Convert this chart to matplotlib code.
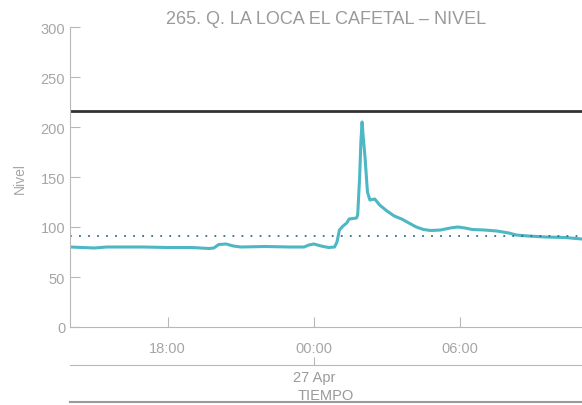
import datetime as dt
import matplotlib
matplotlib.use("Agg")
import matplotlib.pyplot as plt
import matplotlib.dates as mdates
from matplotlib.lines import Line2D

plt.rcParams['font.family'] = ['Liberation Sans', 'DejaVu Sans']

# hours counted from 2023-04-26 00:00
hours = [14.0, 14.5, 15.0, 15.5, 16.0, 17.0, 18.0, 19.0, 19.7, 19.9, 20.1, 20.4,
         20.7, 21.0, 22.0, 23.0, 23.6, 23.8, 24.0, 24.3, 24.6, 24.85, 24.95, 25.05,
         25.2, 25.35, 25.45, 25.75, 25.8, 25.88, 25.93, 25.98, 26.02, 26.1, 26.2,
         26.3, 26.5, 26.7, 27.0, 27.3, 27.6, 27.9, 28.2, 28.5, 28.8, 29.2, 29.6,
         29.9, 30.2, 30.5, 31.0, 31.5, 32.0, 32.3, 32.8, 33.5, 34.3, 35.0]
nivel = [80, 79.5, 79, 80, 80, 80, 79.5, 79.5, 78.5, 79, 82.5, 83,
         81, 80, 80.5, 80, 80, 82, 83, 81, 79.5, 80, 85, 97,
         101, 104, 108, 109, 112, 150, 185, 205, 192, 170, 135,
         127, 128, 122, 116, 111, 108, 104, 100, 97.5, 96.5, 97, 99,
         100, 99, 97.5, 97, 96, 94, 92, 91, 90, 89.5, 88]

umbral_alto = 216
umbral_medio = 91

base = dt.datetime(2023, 4, 26)
tiempo = [base + dt.timedelta(hours=h) for h in hours]

gris = '#a6a6a6'
fig = plt.figure(figsize=(5.82, 4.06), dpi=100)
ax = fig.add_axes([70/582, 78/406, 512/582, 300/406])

ax.plot(tiempo, nivel, color='#4db7c3', lw=2.2, solid_joinstyle='round')
ax.axhline(umbral_alto, color='#333333', lw=2)
ax.axhline(umbral_medio, color='#2f6f8f', lw=1.3, ls=(0, (1, 4)))

ax.set_xlim(base + dt.timedelta(hours=14.0), base + dt.timedelta(hours=35.0))
ax.set_ylim(0, 300)
ax.set_yticks([0, 50, 100, 150, 200, 250, 300])
ax.xaxis.set_major_locator(mdates.HourLocator(byhour=[0, 6, 18]))
ax.xaxis.set_major_formatter(mdates.DateFormatter('%H:%M'))

for s in ['top', 'right']:
    ax.spines[s].set_visible(False)
for s in ['left', 'bottom']:
    ax.spines[s].set_color('#b8b8b8')
ax.tick_params(direction='in', length=7, color='#b8b8b8', labelcolor=gris,
               labelsize=10.5)
ax.tick_params(axis='x', pad=10)
ax.set_ylabel('Nivel', color=gris, fontsize=10, labelpad=10)
ax.set_title('265. Q. LA LOCA EL CAFETAL \u2013 NIVEL', color='#9a9a9a',
             fontsize=13, pad=3)

sec = ax.secondary_xaxis(-0.125)
sec.xaxis.set_major_locator(mdates.DayLocator())
sec.xaxis.set_major_formatter(mdates.DateFormatter('%d %b'))
sec.spines['bottom'].set_color('#b8b8b8')
sec.tick_params(direction='in', length=6, color='#b8b8b8', labelcolor='#999999',
                labelsize=10.5, pad=4)
sec.set_xlabel('TIEMPO', color='#999999', fontsize=10.5, labelpad=3)

fig.add_artist(Line2D([70/582, 1], [3/406, 3/406], color='#9a9a9a', lw=1.5))

fig.savefig('out.png', dpi=100)
